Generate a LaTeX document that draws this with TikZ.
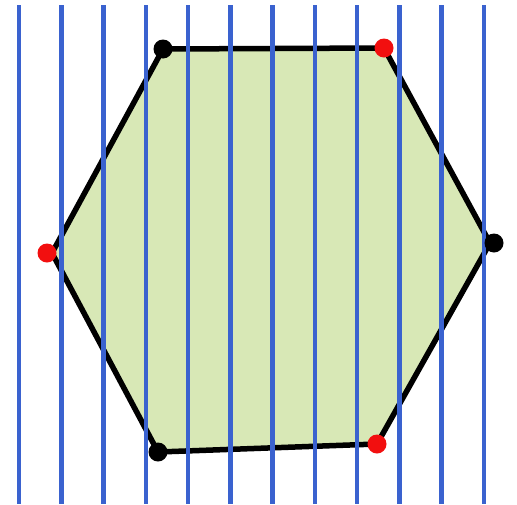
\documentclass[tikz,border=0pt]{standalone}
\begin{document}
\begin{tikzpicture}[x=1pt,y=-1pt,
  hexfill/.style={fill=hexgreen},
  hexedge/.style={draw=black,line width=5.5pt,line join=round},
  stripe/.style={draw=stripeblue,line width=4.5pt},
  blackdot/.style={circle,fill=black,inner sep=0pt,minimum size=19pt},
  reddot/.style={circle,fill=dotred,inner sep=0pt,minimum size=19pt}]
\definecolor{hexgreen}{HTML}{D8E8B6}
\definecolor{stripeblue}{HTML}{3A62CF}
\definecolor{dotred}{HTML}{F20F0F}
\useasboundingbox (0,0) rectangle (517,504);
\fill[white] (0,0) rectangle (517,504);
\coordinate (v1) at (163,49);
\coordinate (v2) at (384,48);
\coordinate (v3) at (490,243);
\coordinate (v4) at (377,444);
\coordinate (v5) at (158,452);
\coordinate (v6) at (52,253);
\path[hexfill] (v1) -- (v2) -- (v3) -- (v4) -- (v5) -- (v6) -- cycle;
\draw[hexedge] (v1) -- (v2) -- (v3) -- (v4) -- (v5) -- (v6) -- cycle;
\foreach \i in {0,...,11} {
  \draw[stripe] ({19+42.25*\i},5) -- ({19+42.25*\i},504);
}
\node[blackdot] (d1) at (163,49) {};
\node[reddot] (d2) at (384,48) {};
\node[blackdot] (d3) at (494,243) {};
\node[reddot] (d4) at (377,444) {};
\node[blackdot] (d5) at (158,452) {};
\node[reddot] (d6) at (47,253) {};
\end{tikzpicture}
\end{document}
